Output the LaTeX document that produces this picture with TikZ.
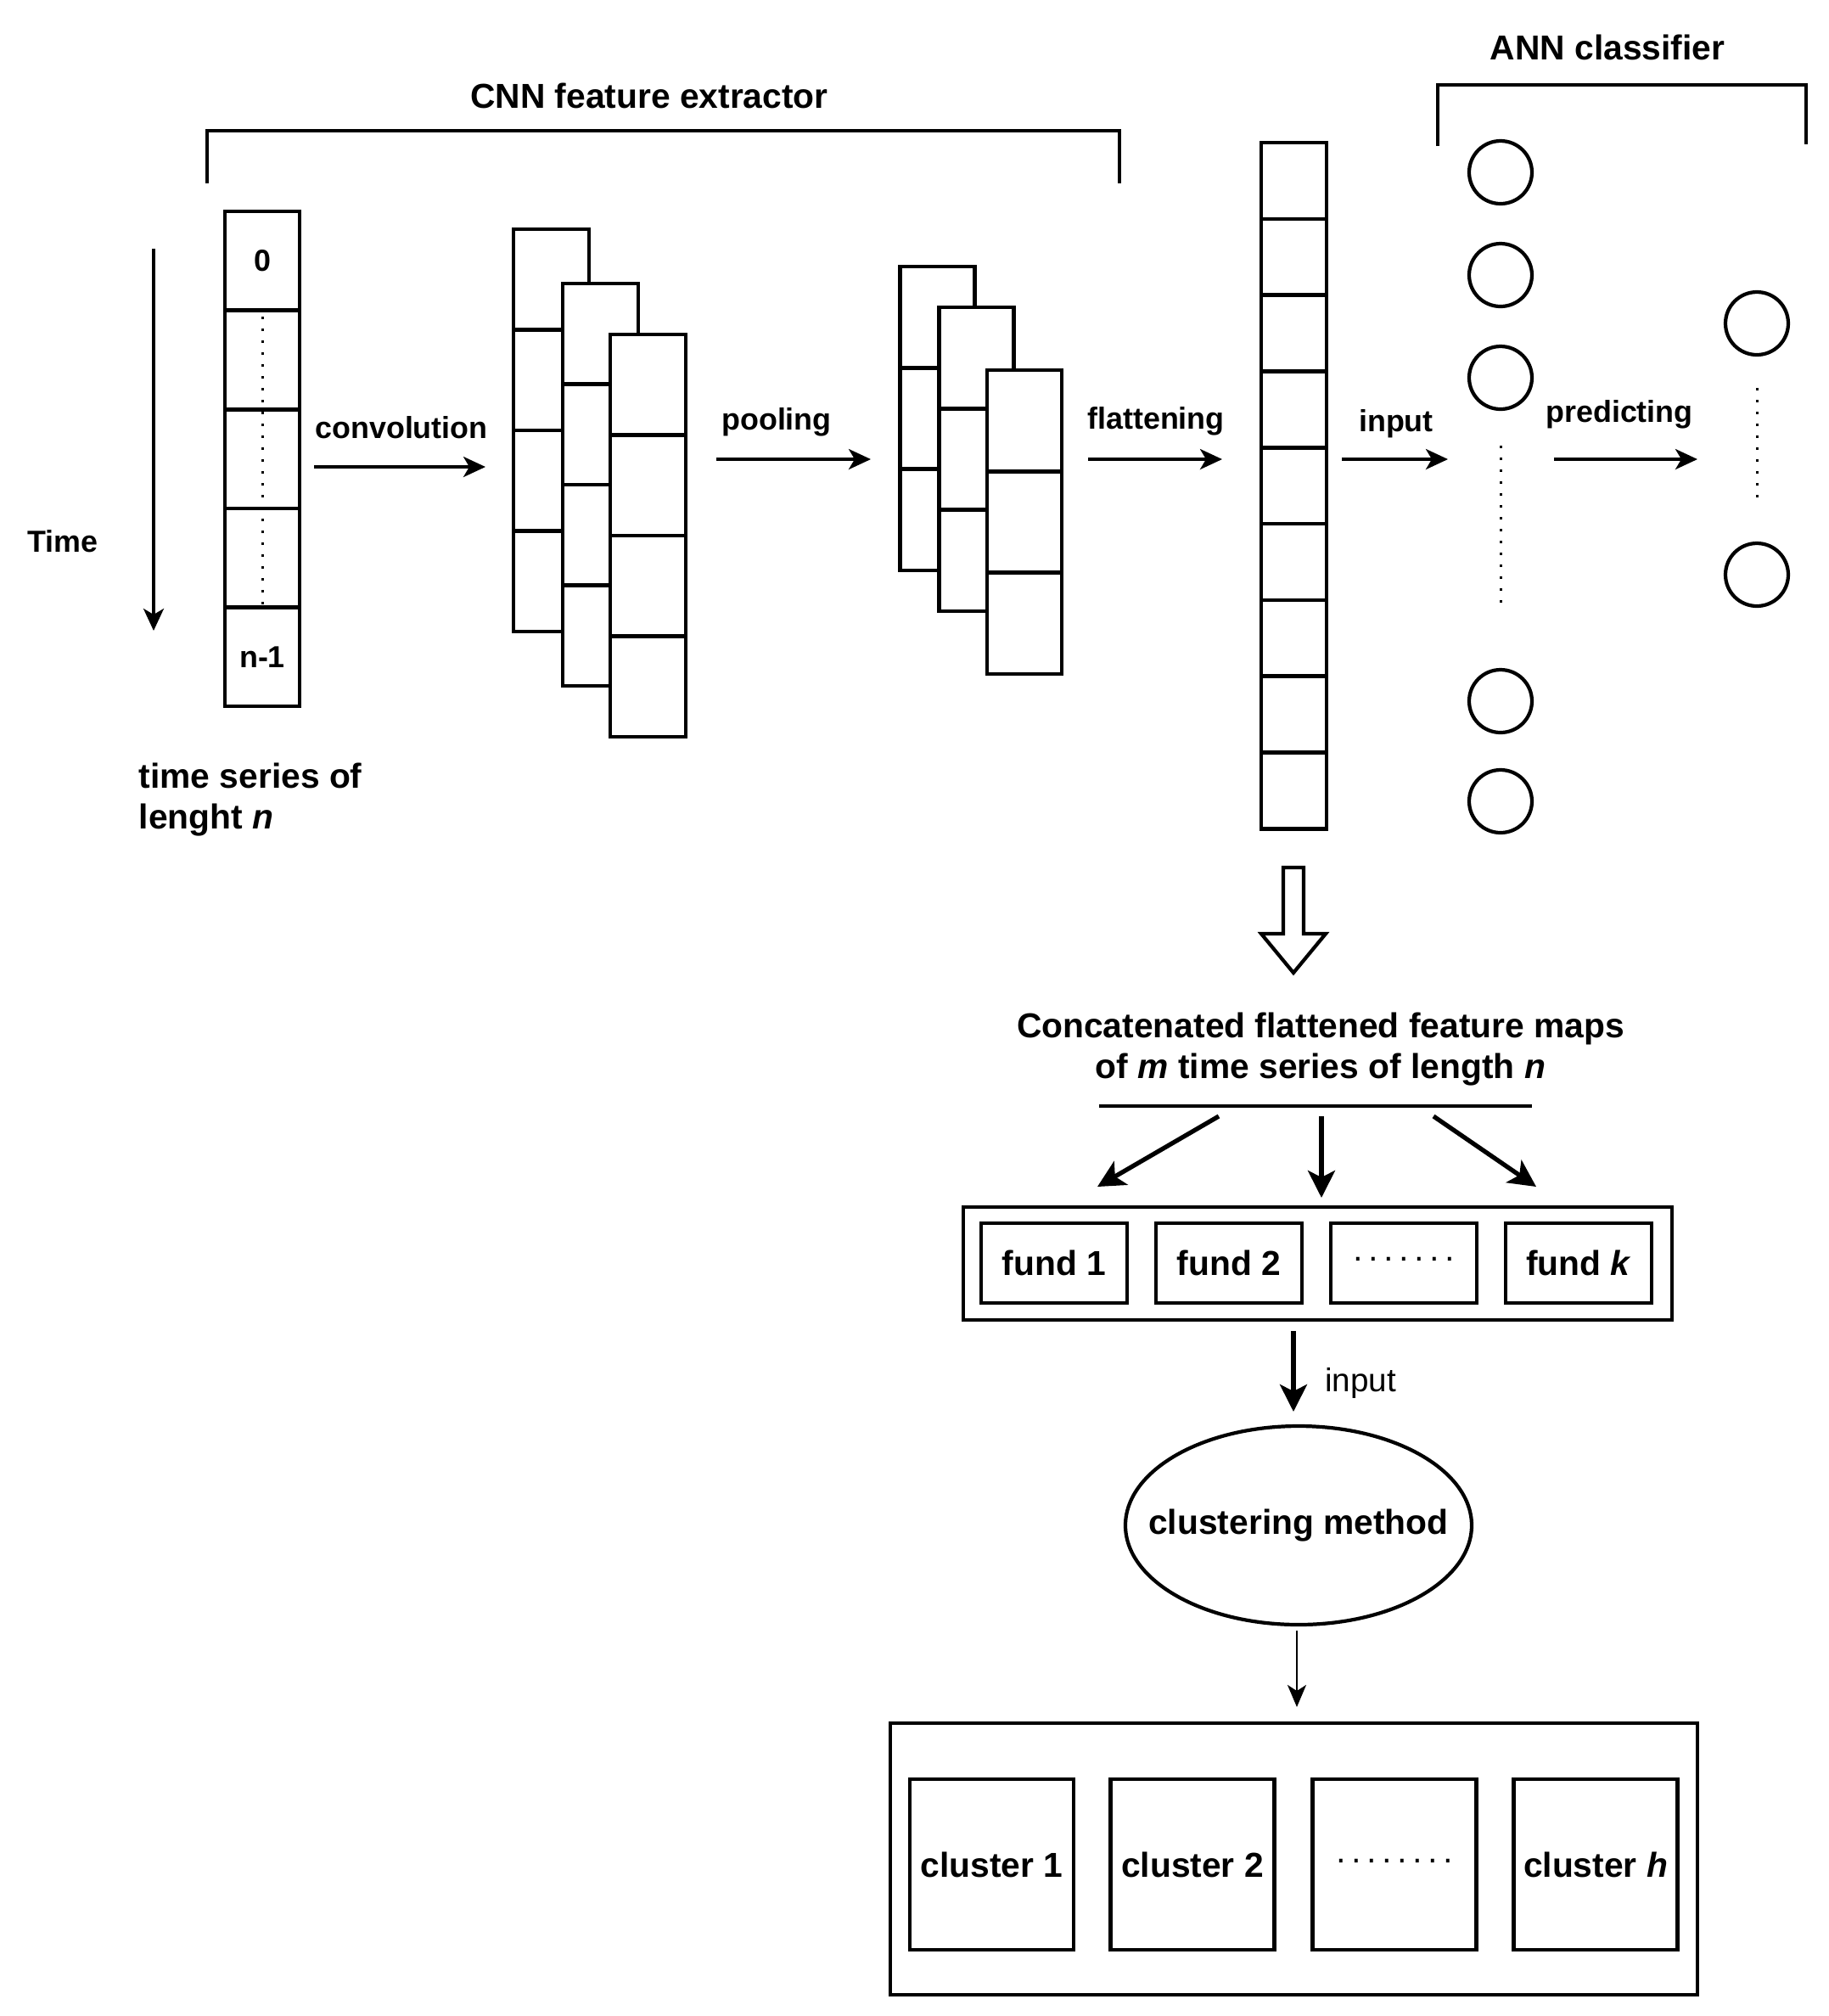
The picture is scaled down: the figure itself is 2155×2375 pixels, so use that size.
\documentclass[tikz,border=0pt]{standalone}
\usepackage{fontspec}
\setmainfont{Liberation Sans}
\usetikzlibrary{arrows.meta,shapes.geometric}

\newcommand{\dotrow}[1]{\foreach \k in {1,...,#1}{\makebox[1.8mm]{·}}}

\tikzset{
  cell/.style={draw, fill=white, line width=1.3pt, inner sep=0pt, minimum width=8.8mm, minimum height=#1},
  lbl/.style={font=\bfseries\fontsize{10.2}{12}\selectfont, inner sep=0pt},
  bigtext/.style={font=\bfseries\fontsize{11.6}{13.4}\selectfont, inner sep=0pt},
  neuron/.style={draw, circle, line width=1.2pt, minimum size=7.4mm, inner sep=0pt},
  fundbox/.style={draw, line width=1.3pt, inner sep=0pt, minimum width=17.2mm, minimum height=9.4mm, bigtext},
  clusterbox/.style={draw, line width=1.3pt, inner sep=0pt, minimum width=19.3mm, minimum height=20.1mm, bigtext},
  arr/.style={line width=1pt, -{Stealth[length=2.6mm, width=2.4mm, inset=0.7mm]}},
  fatarr/.style={line width=1.5pt, -{Stealth[length=3.2mm, width=3.2mm, inset=0.8mm]}},
  dotline/.style={line width=0.3mm, dash pattern=on 0.3mm off 1.1mm}
}

\begin{document}
\begin{tikzpicture}[x=0.1mm, y=-0.1mm]
  % Page with white background
  \fill[white] (0,0) rectangle (2155,2375);

  % Brackets and titles
  \draw[line width=1.3pt] (244,216) -- (244,154) -- (1319,154) -- (1319,216);
  \node[bigtext] (cnnlbl) at (765,113) {CNN feature extractor};
  \draw[line width=1.3pt] (1694,172) -- (1694,100) -- (2128,100) -- (2128,170);
  \node[bigtext] (annlbl) at (1894,56) {ANN classifier};

  % Time axis
  \coordinate (time-a) at (181,293);
  \coordinate (time-b) at (181,743);
  \draw[arr] (time-a) -- (time-b);
  \node[lbl] (timelbl) at (74,638) {Time};

  % Input time series
  \foreach \i in {0,...,4}
    \node[cell=11.66mm] (ts\i) at (309, 307.3+116.6*\i) {};
  \node[lbl] (tsfirst) at (ts0) {0};
  \node[lbl] (tslast) at (ts4) {n-1};
  \draw[dotline] ([yshift=-1mm]ts1.north) -- ([yshift=-0.8mm]ts4.north);
  \node[bigtext, anchor=west, align=left] (tslbl) at (163,942) {time series of\\lenght \textit{n}};

  % Convolution feature maps
  \foreach \i in {0,...,3} {
    \node[cell=11.85mm, minimum width=8.9mm] (ca\i) at (649.5, 329.25+118.5*\i) {};
  }
  \foreach \i in {0,...,3} {
    \node[cell=11.85mm, minimum width=8.9mm] (cb\i) at (707.5, 393.25+118.5*\i) {};
  }
  \foreach \i in {0,...,3} {
    \node[cell=11.85mm, minimum width=8.9mm] (cc\i) at (763.5, 453.25+118.5*\i) {};
  }

  % Pooled feature maps
  \foreach \i in {0,...,2} {
    \node[cell=11.93mm] (pa\i) at (1104.5, 373.65+119.3*\i) {};
  }
  \foreach \i in {0,...,2} {
    \node[cell=11.93mm] (pb\i) at (1150.5, 421.65+119.3*\i) {};
  }
  \foreach \i in {0,...,2} {
    \node[cell=11.93mm] (pc\i) at (1207, 495.65+119.3*\i) {};
  }

  % Flattened vector
  \foreach \i in {0,...,8}
    \node[cell=8.98mm, minimum width=7.7mm] (fl\i) at (1524.5, 212.9+89.8*\i) {};

  % ANN layers
  \foreach \y [count=\i] in {203,324,445,826,944}
    \node[neuron] (in\i) at (1768,\y) {};
  \draw[dotline] ([yshift=-4.1mm]in3.south) -- ([yshift=7.2mm]in4.north);
  \node[neuron] (out1) at (2070,381) {};
  \node[neuron] (out2) at (2070,677) {};
  \draw[dotline] ([yshift=-3.7mm]out1.south) -- ([yshift=4.4mm]out2.north);

  % Stage arrows
  \coordinate (conv-a) at (370,550);
  \coordinate (conv-b) at (572,550);
  \draw[arr] (conv-a) -- (conv-b);
  \node[lbl] (convlbl) at (473,504) {convolution};
  \coordinate (pool-a) at (844,541);
  \coordinate (pool-b) at (1026,541);
  \draw[arr] (pool-a) -- (pool-b);
  \node[lbl] (poollbl) at (915,497) {pooling};
  \coordinate (flat-a) at (1282,541);
  \coordinate (flat-b) at (1440,541);
  \draw[arr] (flat-a) -- (flat-b);
  \node[lbl] (flatlbl) at (1362,496) {flattening};
  \coordinate (inp-a) at (1581,541);
  \coordinate (inp-b) at (1706,541);
  \draw[arr] (inp-a) -- (inp-b);
  \node[lbl] (inplbl) at (1645,499) {input};
  \coordinate (pred-a) at (1831,541);
  \coordinate (pred-b) at (2000,541);
  \draw[arr] (pred-a) -- (pred-b);
  \node[lbl] (predlbl) at (1908,488) {predicting};

  % Hollow arrow down
  \draw[line width=1.2pt] (1512,1022) -- (1536,1022) -- (1536,1100) -- (1562,1100)
    -- (1524,1146) -- (1486,1100) -- (1512,1100) -- cycle;

  % Concatenated features
  \node[bigtext, align=center] (concat) at (1556,1236) {Concatenated flattened feature maps\\of \textit{m} time series of length \textit{n}};
  \draw[line width=1.4pt] (1295,1303) -- (1805,1303);
  \coordinate (split-l) at (1436,1315);
  \coordinate (split-m) at (1557,1315);
  \coordinate (split-r) at (1689,1315);
  \coordinate (to-l) at (1293,1398);
  \coordinate (to-m) at (1557,1411);
  \coordinate (to-r) at (1810,1398);
  \draw[fatarr] (split-l) -- (to-l);
  \draw[fatarr] (split-m) -- (to-m);
  \draw[fatarr] (split-r) -- (to-r);

  % Funds
  \node[draw, line width=1.3pt, inner sep=0pt, minimum width=83.5mm, minimum height=13.3mm] (funds) at (1552.5,1488.5) {};
  \node[fundbox] (fund1) at (1242,1488) {fund 1};
  \node[fundbox] (fund2) at (1448,1488) {fund 2};
  \node[fundbox, font=\fontsize{11.6}{13.4}\selectfont] (fund3) at (1654,1488) {\dotrow{7}};
  \node[fundbox] (fund4) at (1860,1488) {fund \textit{k}};

  % Clustering
  \node[ellipse, draw, line width=1.2pt, inner sep=0pt, minimum width=40.8mm, minimum height=23.4mm] (clust) at (1530,1797) {};
  \node[bigtext] (clustlbl) at (clust) {clustering method};
  \coordinate (fin-a) at (1524,1568);
  \coordinate (fin-b) at (1524,1663);
  \draw[fatarr] (fin-a) -- (fin-b);
  \node[font=\fontsize{11}{13}\selectfont, inner sep=0pt] (finlbl) at (1603,1629) {input};
  \coordinate (cout-a) at (1528,1921);
  \coordinate (cout-b) at (1528,2011);
  \draw[line width=0.7pt, -{Stealth[length=2.6mm, width=2.2mm, inset=0.7mm]}] (cout-a) -- (cout-b);

  % Clusters
  \node[draw, line width=1.3pt, inner sep=0pt, minimum width=95.1mm, minimum height=32mm] (clusters) at (1524.5,2190) {};
  \node[clusterbox] (cl1) at (1168.5,2196.5) {cluster 1};
  \node[clusterbox] (cl2) at (1405,2196.5) {cluster 2};
  \node[clusterbox, font=\fontsize{11.6}{13.4}\selectfont] (cl3) at (1643,2196.5) {\dotrow{8}};
  \node[clusterbox] (cl4) at (1880,2196.5) {cluster \textit{h}};
\end{tikzpicture}
\end{document}
